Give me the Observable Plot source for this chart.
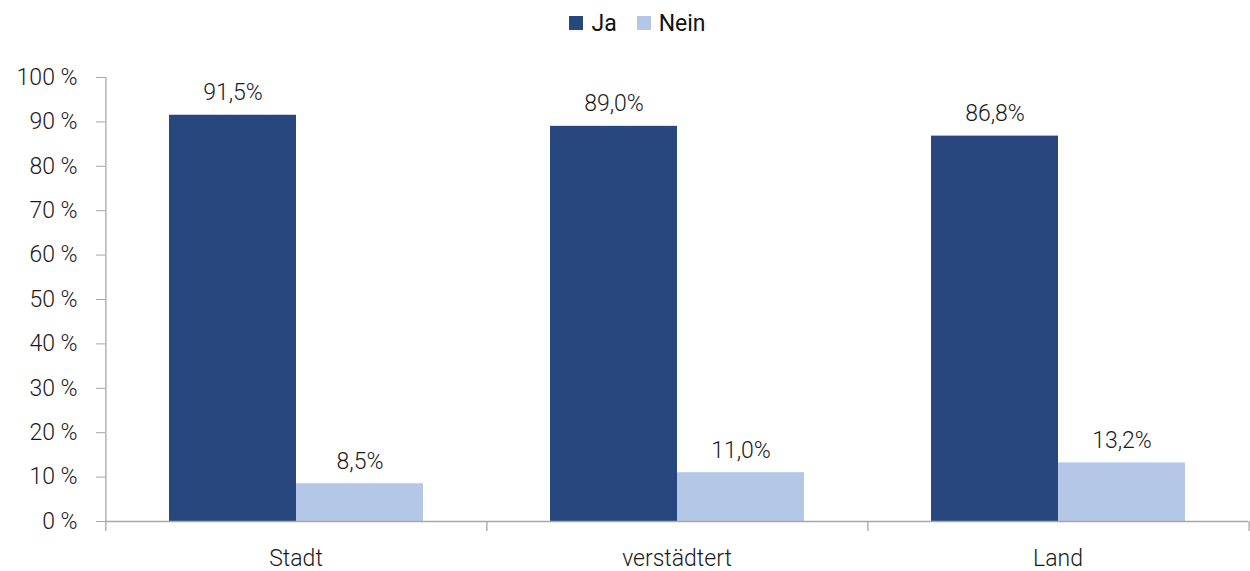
<!DOCTYPE html>
<html><head><meta charset="utf-8">
<script src="https://cdn.jsdelivr.net/npm/d3@7"></script>
<script src="https://cdn.jsdelivr.net/npm/@observablehq/plot@0.6"></script>
<style>
body{margin:0;background:#fff;font-family:Roboto,"DejaVu Sans",sans-serif;color:#111}
#legend{height:46px;display:flex;justify-content:center;align-items:center;padding-left:25px;box-sizing:border-box;font-size:23px;font-weight:400}
#legend .item{display:flex;align-items:center;margin:0 10px}
#legend .sw{width:14px;height:14px;margin-right:8px}
</style></head><body>
<div id="legend"></div>
<div id="chart"></div>
<script>
const categories = ["Stadt", "verstädtert", "Land"];
const series = ["Ja", "Nein"];
const jaValues = [91.5, 89.0, 86.8];
const neinValues = [8.5, 11.0, 13.2];
const seriesColors = ["#29477F", "#B4C7E6"];
const yTicks = [0, 10, 20, 30, 40, 50, 60, 70, 80, 90, 100];

const data = categories.flatMap((c, i) => [
  {category: c, series: series[0], value: jaValues[i]},
  {category: c, series: series[1], value: neinValues[i]}
]);

// legend
const legend = document.getElementById("legend");
series.forEach((s, i) => {
  const item = document.createElement("div");
  item.className = "item";
  const sw = document.createElement("span");
  sw.className = "sw";
  sw.style.background = seriesColors[i];
  const t = document.createElement("span");
  t.textContent = s;
  item.append(sw, t);
  legend.append(item);
});

const W = 1250, H = 525, ML = 104, MR = 2, MT = 31, MB = 50;
const facetW = (W - ML - MR) / categories.length;
const step = facetW / (series.length + 1);
const axisColor = "#a6a6a6";
const fmt = v => v.toFixed(1).replace(".", ",") + "%";

const chart = Plot.plot({
  width: W, height: H,
  marginLeft: ML, marginRight: MR, marginTop: MT, marginBottom: MB,
  style: {fontFamily: "Roboto, 'DejaVu Sans', sans-serif", fontSize: "23px", fontWeight: 300, color: "#1a1a1a", background: "#fff"},
  fx: {domain: categories, padding: 0, axis: "bottom", label: null, tickSize: 0, tickPadding: 28},
  x: {domain: series, paddingInner: 0, paddingOuter: 0.5, axis: null},
  y: {domain: [0, 100], axis: null},
  color: {domain: series, range: seriesColors},
  marks: [
    Plot.axisY(yTicks, {anchor: "left", tickSize: 9, tickPadding: 19, tickFormat: d => d + " %", label: null, stroke: axisColor, fontSize: 23}),
    Plot.barY(data, {fx: "category", x: "series", y: "value", fill: "series"}),
    Plot.ruleY([0], {stroke: axisColor, strokeWidth: 1.3}),
    Plot.ruleX([categories[0]], {fx: d => d, x: () => series[0], y1: 0, y2: 100, dx: -step, stroke: axisColor, strokeWidth: 1.3}),
    Plot.ruleX(categories, {fx: d => d, x: () => series[0], y1: 0, y2: 0, insetBottom: -10, dx: -step, stroke: axisColor, strokeWidth: 1.3}),
    Plot.ruleX([categories[categories.length - 1]], {fx: d => d, x: () => series[series.length - 1], y1: 0, y2: 0, insetBottom: -10, dx: step, stroke: axisColor, strokeWidth: 1.3}),
    Plot.text(data, {fx: "category", x: "series", y: "value", text: d => fmt(d.value), lineAnchor: "bottom", dy: -15, fontSize: 23, fill: "#1a1a1a"})
  ]
});
document.getElementById("chart").append(chart);
</script>
</body></html>
